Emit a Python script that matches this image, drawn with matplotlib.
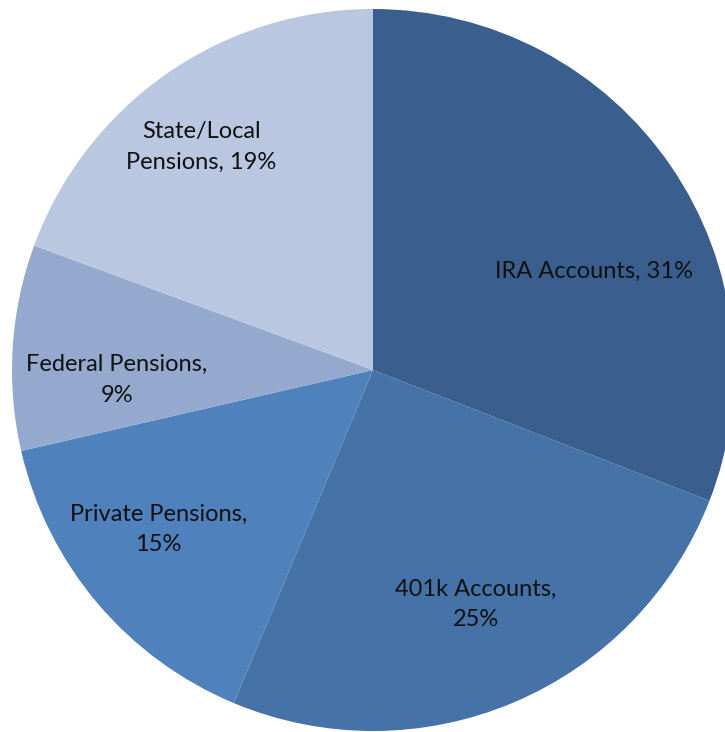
import numpy as np
import matplotlib
matplotlib.use("Agg")
from matplotlib import pyplot as plt

# pension asset shares (clockwise from 12 o'clock)
CATEGORIES = ["IRA Accounts", "401k Accounts", "Private Pensions", "Federal Pensions", "State/Local Pensions"]
SHARES = [30.9, 25.4, 15.1, 9.2, 19.4]
LABEL_TEXT = ["IRA Accounts, 31%", "401k Accounts,\n25%", "Private Pensions,\n15%",
              "Federal Pensions,\n9%", "State/Local\nPensions, 19%"]
COLORS = ["#3A5F8E", "#4573A7", "#4F81BD", "#95A9CF", "#BAC7E0"]

# label placement tweaks (radius as fraction of pie radius, angle shift in degrees)
LABEL_R = [0.67, 0.71, 0.74, 0.71, 0.78]
LABEL_DANG = [-10.4, 0.7, -3.6, 5.8, 2.7]

W, H = 725, 732
CX, CY, R = 373, H - 370, 361

plt.rcParams['font.family'] = ['Lato', 'DejaVu Sans']
fig = plt.figure(figsize=(W / 100, H / 100), dpi=100)
ax = fig.add_axes([0, 0, 1, 1])

wedges, texts = ax.pie(SHARES, labels=LABEL_TEXT, colors=COLORS, startangle=90,
                       counterclock=False, center=(CX, CY), radius=R,
                       labeldistance=0.7, wedgeprops=dict(linewidth=0),
                       textprops=dict(fontsize=17, color="#111111", ha="center", va="center"))

for w, t, rf, da in zip(wedges, texts, LABEL_R, LABEL_DANG):
    ang = np.deg2rad((w.theta1 + w.theta2) / 2 + da)
    t.set_position((CX + rf * R * np.cos(ang), CY + rf * R * np.sin(ang)))
    t.set_horizontalalignment("center")
    t.set_verticalalignment("center")
    t.set_multialignment("center")
    t.set_linespacing(1.55)

ax.set_xlim(0, W)
ax.set_ylim(0, H)
ax.set_aspect("auto")
ax.axis("off")

fig.savefig("out.png", dpi=100)
